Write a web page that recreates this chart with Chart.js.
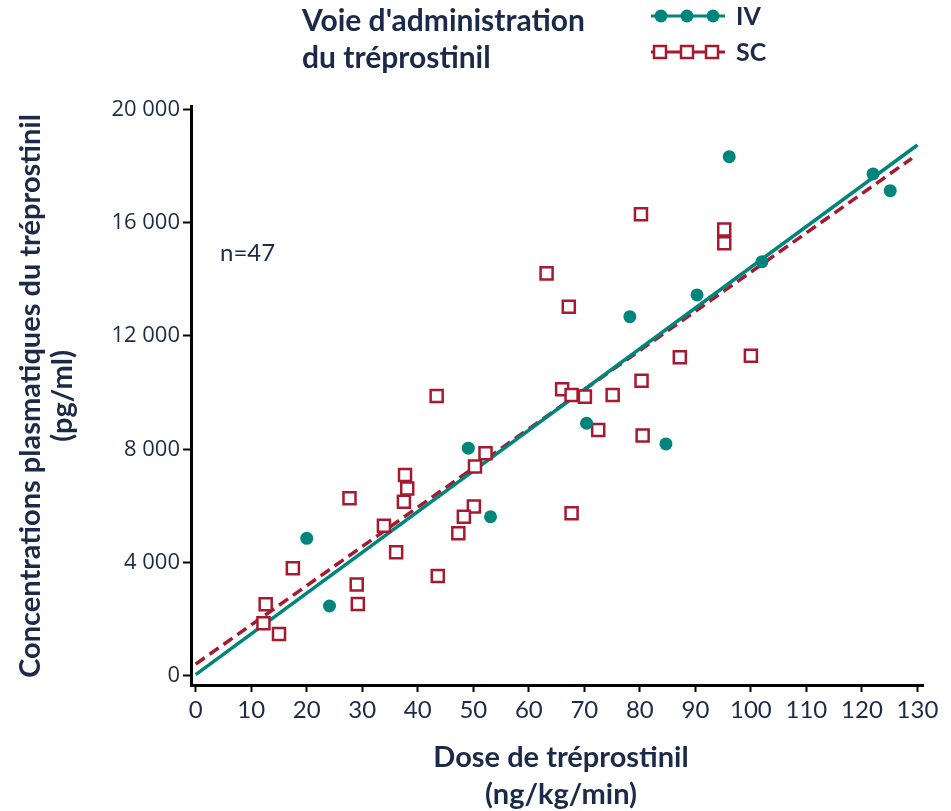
<!DOCTYPE html>
<html>
<head>
<meta charset="utf-8">
<script src="https://cdn.jsdelivr.net/npm/chart.js@4/dist/chart.umd.min.js"></script>
<style>
  html, body { margin: 0; padding: 0; background: #fff; }
  canvas { display: block; }
</style>
</head>
<body>
<canvas id="pkChart" width="951" height="811"></canvas>
<script>
  // Dose (ng/kg/min) and plasma concentration (pg/ml) per route
  const ivDose = [20.0, 24.1, 49.1, 53.1, 70.4, 78.2, 84.7, 90.3, 96.1, 102.0, 122.0, 125.1];
  const ivConc = [4860, 2470, 8040, 5620, 8920, 12680, 8190, 13450, 18330, 14620, 17720, 17130];

  const scDose = [43.4, 52.2, 50.3, 37.7, 38.1, 37.5, 27.7, 33.9, 50.1, 48.3, 47.3, 36.1, 17.5, 43.6, 29.0, 29.2, 12.6, 12.2, 15.0,
                  80.2, 95.2, 95.2, 63.2, 67.2, 87.2, 100.0, 66.0, 67.7, 70.1, 75.1, 80.3, 72.5, 80.5, 67.7];
  const scConc = [9880, 7860, 7390, 7090, 6620, 6150, 6270, 5300, 5980, 5620, 5040, 4370, 3800, 3530, 3230, 2540, 2530, 1860, 1480,
                  16300, 15760, 15270, 14210, 13030, 11250, 11300, 10120, 9920, 9860, 9920, 10420, 8680, 8490, 5740];

  // regression lines, end points
  const ivFitDose = [0, 130];
  const ivFitConc = [50, 18740];
  const scFitDose = [0, 129];
  const scFitConc = [420, 18270];

  const xTicks = [0, 10, 20, 30, 40, 50, 60, 70, 80, 90, 100, 110, 120, 130];
  const yTicks = [0, 4000, 8000, 12000, 16000, 20000];

  const TEAL = '#00857d';
  const RED = '#a6192e';
  const NAVY = '#1b2a48';

  function toPoints(xs, ys) {
    return xs.map(function(x, i) { return { x: x, y: ys[i] }; });
  }

  function fmtThousands(v) {
    return String(v).replace(/\B(?=(\d{3})+(?!\d))/g, ' ');
  }

  // titles, legend and the n= note, drawn straight on the canvas
  const decorPlugin = {
    id: 'decor',
    afterDraw(chart) {
      const c = chart.ctx;
      c.save();
      c.fillStyle = NAVY;
      c.textBaseline = 'middle';

      // legend title
      c.font = 'bold 30px Lato';
      c.textAlign = 'left';
      c.fillText("Voie d'administration", 302, 21);
      c.fillText('du tréprostinil', 302, 58);

      // IV item
      c.strokeStyle = TEAL;
      c.lineWidth = 3;
      c.setLineDash([]);
      c.beginPath(); c.moveTo(651, 16); c.lineTo(725, 16); c.stroke();
      c.fillStyle = TEAL;
      [661, 687, 713].forEach(function(x) {
        c.beginPath(); c.arc(x, 16, 6.5, 0, Math.PI * 2); c.fill();
      });

      // SC item
      c.strokeStyle = RED;
      c.lineWidth = 3;
      c.beginPath(); c.moveTo(651, 52); c.lineTo(725, 52); c.stroke();
      c.lineWidth = 2.5;
      [660, 687, 712].forEach(function(x) {
        c.fillStyle = '#fff';
        c.fillRect(x - 6, 46, 12, 12);
        c.strokeRect(x - 6, 46, 12, 12);
      });

      c.fillStyle = NAVY;
      c.font = 'bold 25px Lato';
      c.fillText('IV', 736, 17);
      c.fillText('SC', 736, 53);

      // n note
      c.font = '24px Lato';
      c.fillText('n=47', 220, 253);

      // x axis title
      c.font = 'bold 29px Lato';
      c.textAlign = 'center';
      c.fillText('Dose de tréprostinil', 561, 758);
      c.fillText('(ng/kg/min)', 561, 795);

      // y axis title
      c.translate(31, 396);
      c.rotate(-Math.PI / 2);
      c.fillText('Concentrations plasmatiques du tréprostinil', 0, 0);
      c.fillText('(pg/ml)', 0, 32);
      c.restore();
    }
  };

  const ctx = document.getElementById('pkChart').getContext('2d');
  const pkChart = new Chart(ctx, {
    type: 'scatter',
    data: {
      datasets: [
        {
          label: 'IV',
          data: toPoints(ivDose, ivConc),
          pointStyle: 'circle',
          pointRadius: 6.5,
          pointBackgroundColor: TEAL,
          pointBorderWidth: 0,
          order: 1
        },
        {
          label: 'SC',
          data: toPoints(scDose, scConc),
          pointStyle: 'rect',
          pointRadius: 8.5,
          pointBackgroundColor: '#fff',
          pointBorderColor: RED,
          pointBorderWidth: 2.5,
          order: 2
        },
        {
          label: 'IV fit',
          data: toPoints(ivFitDose, ivFitConc),
          showLine: true,
          borderColor: TEAL,
          borderWidth: 3.5,
          pointRadius: 0,
          order: 3
        },
        {
          label: 'SC fit',
          data: toPoints(scFitDose, scFitConc),
          showLine: true,
          borderColor: RED,
          borderWidth: 3.5,
          borderDash: [11, 6],
          pointRadius: 0,
          order: 4
        }
      ]
    },
    options: {
      responsive: false,
      animation: false,
      devicePixelRatio: 1,
      layout: { padding: { top: 106, right: 28, left: 0, bottom: 0 } },
      plugins: { legend: { display: false }, tooltip: { enabled: false } },
      scales: {
        x: {
          type: 'linear',
          min: -0.85,
          max: 131,
          afterBuildTicks: function(scale) { scale.ticks = xTicks.map(function(v) { return { value: v }; }); },
          afterFit: function(scale) { scale.height = 811 - 685; },
          border: { display: true, color: '#000', width: 3 },
          grid: { drawOnChartArea: false, drawTicks: true, tickLength: 7, tickWidth: 2, color: '#000' },
          ticks: {
            color: NAVY,
            padding: 4,
            font: { family: 'Lato', size: 24 },
            callback: function(v) { return String(v); }
          }
        },
        y: {
          type: 'linear',
          min: -318,
          max: 20117,
          afterBuildTicks: function(scale) { scale.ticks = yTicks.map(function(v) { return { value: v }; }); },
          afterFit: function(scale) { scale.width = 191; },
          border: { display: true, color: '#000', width: 3 },
          grid: { drawOnChartArea: false, drawTicks: true, tickLength: 8, tickWidth: 2, color: '#000' },
          ticks: {
            color: NAVY,
            padding: 3,
            font: { family: "'Open Sans'", size: 22 },
            callback: function(v) { return fmtThousands(v); }
          }
        }
      }
    },
    plugins: [decorPlugin]
  });
</script>
</body>
</html>
